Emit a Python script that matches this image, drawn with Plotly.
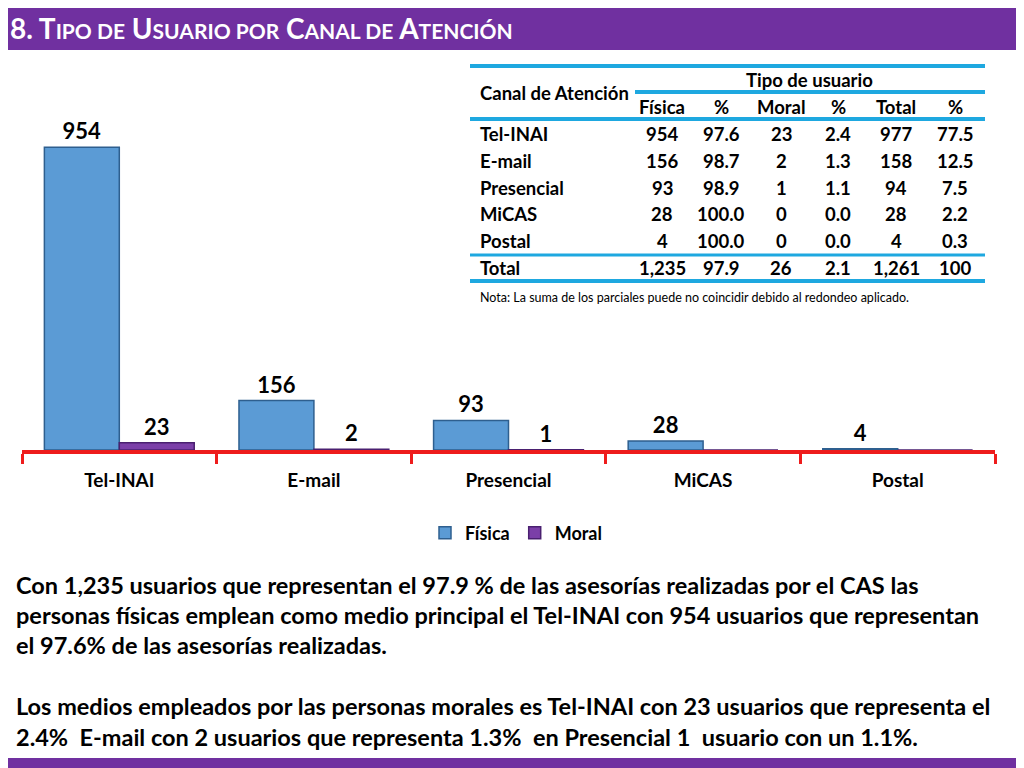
import plotly.graph_objects as go

canales = ["Tel-INAI", "E-mail", "Presencial", "MiCAS", "Postal"]
fisica = [954, 156, 93, 28, 4]
moral = [23, 2, 1, 0, 0]
pct_fisica = ["97.6", "98.7", "98.9", "100.0", "100.0"]
pct_moral = ["2.4", "1.3", "1.1", "0.0", "0.0"]
total = ["977", "158", "94", "28", "4"]
pct_total = ["77.5", "12.5", "7.5", "2.2", "0.3"]
fila_total = ["Total", "1,235", "97.9", "26", "2.1", "1,261", "100"]
encabezados = ["Física", "%", "Moral", "%", "Total", "%"]

# page has an 8px body margin, so work in reference coordinates shifted by it
OFF = 8
W, H = 1024 - OFF, 768 - OFF
FONT = "Lato"
BLUE_LINE = "#1EA8E0"

def px(x):
    return (x - OFF) / W

def py(y):
    return 1 - (y - OFF) / H

fig = go.Figure()
fig.add_bar(x=canales, y=fisica, name="Física", marker=dict(color="#5B9BD5", line=dict(color="#2E5F8F", width=1.5)),
            text=[str(v) for v in fisica], textposition="outside", cliponaxis=False,
            textfont=dict(size=22, color="black", family=FONT, weight="bold"))
fig.add_bar(x=canales, y=moral, name="Moral", marker=dict(color="#7B3FA8", line=dict(color="#4A2070", width=1.5)),
            text=[str(v) if v else "" for v in moral], textposition="outside", cliponaxis=False,
            textfont=dict(size=22, color="black", family=FONT, weight="bold"))

fig.update_layout(
    width=W, height=H, margin=dict(l=0, r=0, t=0, b=0),
    paper_bgcolor="white", plot_bgcolor="white",
    barmode="group", bargap=0.23, bargroupgap=0,
    font=dict(family=FONT, color="black"),
    xaxis=dict(domain=[px(22), px(995)], showline=True, linecolor="#EE1C1C", linewidth=4,
               ticks="outside", tickson="boundaries", ticklen=10, tickwidth=3, tickcolor="#EE1C1C",
               tickfont=dict(size=19, family=FONT, weight="bold"), showgrid=False, anchor="y",
               ticklabelstandoff=10),
    yaxis=dict(domain=[py(450), py(120)], range=[0, 1040], visible=False, showgrid=False),
    legend=dict(orientation="h", x=0.5, xanchor="center", y=py(533), yanchor="middle",
                font=dict(size=18, family=FONT, weight="bold")),
    showlegend=True,
)

shapes = [
    dict(type="rect", xref="paper", yref="paper", x0=0, x1=1, y0=py(50), y1=1, fillcolor="#7030A0", line_width=0, layer="below"),
    dict(type="rect", xref="paper", yref="paper", x0=0, x1=1, y0=0, y1=py(758), fillcolor="#7030A0", line_width=0, layer="below"),
]
for y, x0, w in [(66, 470, 4), (92, 635, 4), (119, 470, 4), (255, 470, 3), (281, 470, 4)]:
    shapes.append(dict(type="line", xref="paper", yref="paper", x0=px(x0), x1=px(985), y0=py(y), y1=py(y),
                       line=dict(color=BLUE_LINE, width=w)))
fig.update_layout(shapes=shapes)

ann = []
def txt(x, y, s, size=18.5, anchor="center", color="black", bold=True):
    ann.append(dict(x=px(x), y=py(y), xref="paper", yref="paper", text=f"<b>{s}</b>" if bold else s,
                    showarrow=False, xanchor=anchor, yanchor="middle",
                    font=dict(size=size, color=color, family=FONT)))

big, small = 28, 21
t = "8. T<span style='font-size:%dpx'>IPO DE</span> U<span style='font-size:%dpx'>SUARIO POR</span> C<span style='font-size:%dpx'>ANAL DE</span> A<span style='font-size:%dpx'>TENCIÓN</span>" % (small, small, small, small)
txt(8, 28, t, size=big, anchor="left", color="white")

txt(478, 93, "Canal de Atención", anchor="left")
txt(809, 80, "Tipo de usuario")
cols = [662, 721, 781, 838, 896, 955]
for c, h in zip(cols, encabezados):
    txt(c, 107, h)
rows_y = [134, 161, 188, 214, 241]
for i, canal in enumerate(canales):
    y = rows_y[i]
    txt(478, y, canal, anchor="left")
    vals = [str(fisica[i]), pct_fisica[i], str(moral[i]), pct_moral[i], total[i], pct_total[i]]
    for c, v in zip(cols, vals):
        txt(c, y, v)
txt(478, 268, fila_total[0], anchor="left")
for c, v in zip(cols, fila_total[1:]):
    txt(c, 268, v)
txt(478, 297, "Nota: La suma de los parciales puede no coincidir debido al redondeo aplicado.", size=12.5, anchor="left", bold=False)

parrafo = [
    (585, "Con 1,235 usuarios que representan el 97.9 % de las asesorías realizadas por el CAS las"),
    (615, "personas físicas emplean como medio principal el Tel-INAI con 954 usuarios que representan"),
    (645, "el 97.6% de las asesorías realizadas."),
    (706, "Los medios empleados por las personas morales es Tel-INAI con 23 usuarios que representa el"),
    (737, "2.4%  E-mail con 2 usuarios que representa 1.3%  en Presencial 1  usuario con un 1.1%."),
]
for y, s in parrafo:
    txt(14, y, s, size=23.5, anchor="left")

fig.update_layout(annotations=ann)
fig.write_html("out.html")
